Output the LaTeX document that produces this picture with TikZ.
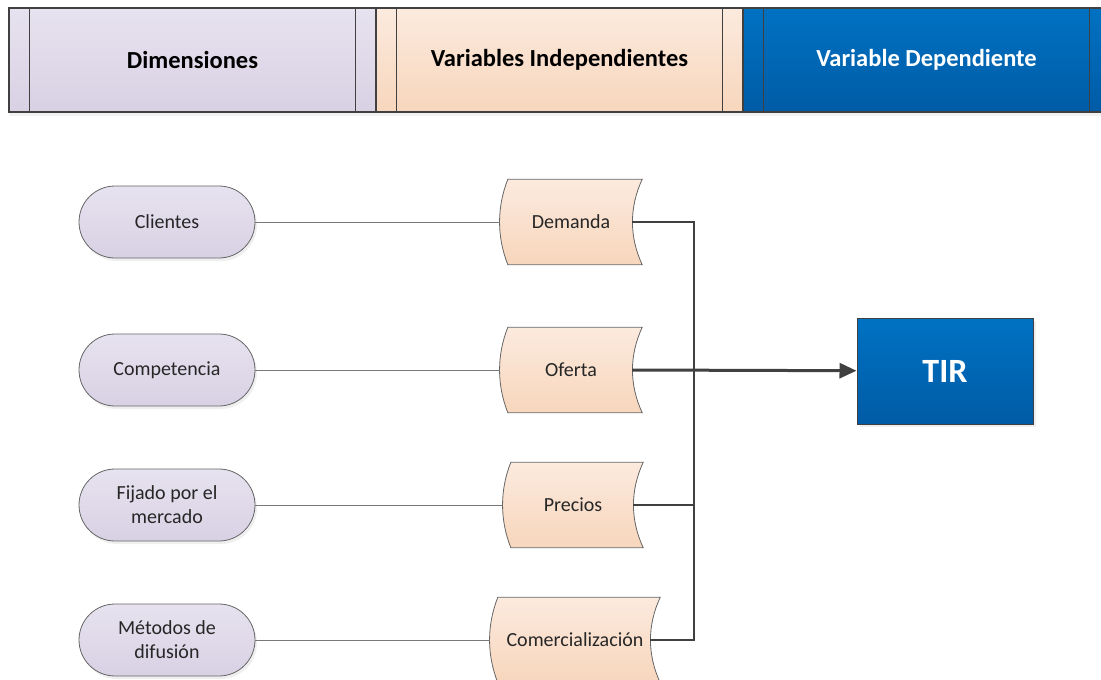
\documentclass[tikz,border=0pt]{standalone}
\usepackage{fontspec}
\setmainfont{Carlito}
\usetikzlibrary{arrows.meta,positioning,calc,shadows}
\pgfdeclarelayer{background}
\pgfsetlayers{background,main}
\definecolor{lilaT}{RGB}{231,226,239}
\definecolor{lilaB}{RGB}{216,209,228}
\definecolor{durazT}{RGB}{252,234,222}
\definecolor{durazB}{RGB}{247,214,188}
\definecolor{azulT}{RGB}{0,114,194}
\definecolor{azulB}{RGB}{0,91,166}
\definecolor{borde}{RGB}{64,64,64}
\definecolor{linea}{RGB}{120,120,120}
\tikzset{
    carril/.style={draw=borde, line width=1.2pt, minimum width=367pt, minimum height=104pt, font=\fontsize{24.5}{27}\selectfont\bfseries},
    dimension/.style={draw=borde!80, line width=0.8pt, rounded corners=36pt, minimum width=176pt, minimum height=72pt, top color=lilaT, bottom color=lilaB, align=center, text=black!85, font=\fontsize{20}{24}\selectfont, drop shadow={shadow xshift=2pt, shadow yshift=-3pt, fill=black!12}},
    dato/.style={minimum height=85pt, inner sep=0pt, text=black!85, font=\fontsize{20}{22}\selectfont},
    tirbox/.style={draw=borde, line width=1pt, minimum width=176pt, minimum height=106pt, top color=azulT, bottom color=azulB, text=white, font=\fontsize{34}{38}\selectfont\bfseries, drop shadow={shadow xshift=3pt, shadow yshift=-3pt, fill=black!12}},
    enlace/.style={draw=linea, line width=0.9pt},
    bus/.style={draw=borde, line width=1.8pt},
    flecha/.style={-{Triangle[length=17pt,width=15pt]}, draw=borde, line width=3pt}
}

\begin{document}
\begin{tikzpicture}[x=1pt, y=-1pt]
    \useasboundingbox (0,0) rectangle (1101,680);
    \clip (0,0) rectangle (1101,680);

    % encabezado de carriles
    \node[carril, top color=lilaT, bottom color=lilaB, drop shadow={shadow xshift=0pt, shadow yshift=-4pt, fill=black!10}] (dim) at (192.5,60) {Dimensiones};
    \node[carril, top color=durazT, bottom color=durazB, drop shadow={shadow xshift=0pt, shadow yshift=-4pt, fill=black!10}] (vind) at (559.5,60) {Variables Independientes};
    \node[carril, top color=azulT, bottom color=azulB, text=white, drop shadow={shadow xshift=0pt, shadow yshift=-4pt, fill=black!10}] (vdep) at (926.5,60) {Variable Dependiente};
    \foreach \c in {dim,vind,vdep} {
        \draw[borde, line width=1.2pt] ([xshift=21pt]\c.north west) -- ([xshift=21pt]\c.south west);
        \draw[borde, line width=1.2pt] ([xshift=-21pt]\c.north east) -- ([xshift=-21pt]\c.south east);
    }

    % dimensiones
    \node[dimension] (cli) at (167,222) {Clientes};
    \node[dimension] (comp) at (167,370) {Competencia};
    \node[dimension] (fij) at (167,505) {Fijado por el\\mercado};
    \node[dimension] (met) at (167,640) {Métodos de\\difusión};

    % variables independientes
    \node[dato, minimum width=142pt] (dem) at (571,222) {Demanda};
    \node[dato, minimum width=142pt] (ofe) at (571,370) {Oferta};
    \node[dato, minimum width=140pt] (pre) at (573,505) {Precios};
    \node[dato, minimum width=170pt] (comz) at (575,640) {Comercialización};

    \begin{pgfonlayer}{background}
        \foreach \n in {dem,ofe,pre,comz} {
            \draw[draw=borde!80, line width=0.8pt, top color=durazT, bottom color=durazB]
                ([xshift=8pt]\n.north west) -- (\n.north east)
                .. controls +(-13,28) and +(-13,-28) .. (\n.south east)
                -- ([xshift=8pt]\n.south west)
                .. controls +(-11,-28) and +(-11,28) .. ([xshift=8pt]\n.north west) -- cycle;
        }
    \end{pgfonlayer}

    % variable dependiente
    \node[tirbox] (tir) at (945,371) {TIR};

    \draw[enlace] (cli) -- (dem);
    \draw[enlace] (comp) -- (ofe);
    \draw[enlace] (fij) -- (pre);
    \draw[enlace] (met) -- (comz);

    \coordinate (bus) at (694,0);
    \draw[bus] ([xshift=-10pt]dem.east) -- (bus |- dem.east) |- ([xshift=-10pt]comz.east);
    \draw[bus] ([xshift=-10pt]pre.east) -- (bus |- pre.east);
    \draw[flecha] ([xshift=-10pt]ofe.east) -- (tir);
\end{tikzpicture}
\end{document}
